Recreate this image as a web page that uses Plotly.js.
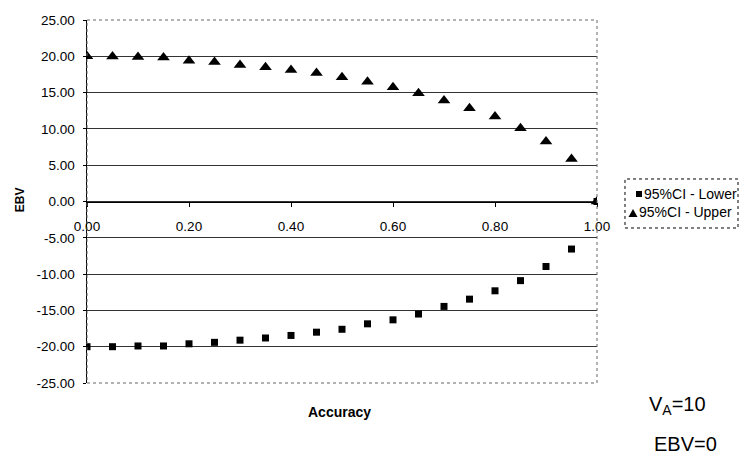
<!DOCTYPE html>
<html>
<head>
<meta charset="utf-8">
<script src="https://cdn.plot.ly/plotly-3.0.1.min.js"></script>
<style>html,body{margin:0;padding:0;background:#fff;}#chart{width:743px;height:457px;}</style>
</head>
<body>
<div id="chart"></div>
<script>
const accuracy = [0.00,0.05,0.10,0.15,0.20,0.25,0.30,0.35,0.40,0.45,0.50,0.55,0.60,0.65,0.70,0.75,0.80,0.85,0.90,0.95,1.00];
const lowerCI = [-20.0,-20.0,-19.9,-19.9,-19.6,-19.4,-19.1,-18.8,-18.45,-18.0,-17.6,-16.85,-16.3,-15.5,-14.45,-13.45,-12.3,-10.9,-8.95,-6.55,0.0];
const upperCI = [20.0,19.97,19.9,19.85,19.4,19.2,18.8,18.5,18.1,17.7,17.1,16.5,15.75,14.9,13.9,12.85,11.7,10.1,8.25,5.85,0.0];
const seriesNames = ['95%CI - Lower','95%CI - Upper'];
const yTicks = [-25,-20,-15,-10,-5,0,5,10,15,20,25];
const xTicks = [0,0.2,0.4,0.6,0.8,1.0];

const font = 'Arial, "Liberation Sans", sans-serif';
const traces = [
  {x: accuracy, y: lowerCI, name: seriesNames[0], type: 'scatter', mode: 'markers',
   marker: {symbol: 'square', size: 7, color: '#000'}},
  {x: accuracy, y: upperCI, name: seriesNames[1], type: 'scatter', mode: 'markers',
   marker: {symbol: 'triangle-up', size: 11, color: '#000'}}
];
const layout = {
  width: 743, height: 457,
  margin: {l: 87, r: 146, t: 20, b: 74, pad: 0, autoexpand: false},
  paper_bgcolor: '#fff', plot_bgcolor: '#fff',
  font: {family: font, size: 13, color: '#000'},
  showlegend: false,
  xaxis: {range: [0, 1], tickvals: xTicks, ticktext: xTicks.map(v => v.toFixed(2)),
          anchor: 'free', position: 0.5, showline: true, linecolor: '#000', linewidth: 1,
          ticks: 'outside', ticklen: 4, tickcolor: '#000', showgrid: false, zeroline: false,
          ticklabelstandoff: 8,
          tickfont: {family: font, size: 13.5, color: '#000'}},
  yaxis: {range: [-25, 25], tickvals: yTicks, ticktext: yTicks.map(v => v.toFixed(2)),
          showline: true, linecolor: '#000', linewidth: 1.5, ticks: 'outside', ticklen: 3, tickcolor: '#000',
          ticklabelstandoff: 5,
          showgrid: true, gridcolor: '#333', gridwidth: 1, zeroline: false,
          tickfont: {family: font, size: 13.5, color: '#000'}},
  shapes: [
    {type: 'rect', xref: 'paper', yref: 'paper', x0: 0, x1: 1, y0: 0, y1: 1,
     line: {color: '#666', width: 1, dash: 'dot'}},
    // legend box
    {type: 'rect', xref: 'paper', yref: 'paper', x0: 1.0549, x1: 1.2765, y0: 0.427, y1: 0.562,
     line: {color: '#000', width: 1, dash: 'dot'}, fillcolor: '#fff'},
    // legend symbols
    {type: 'rect', xref: 'paper', yref: 'paper', x0: 1.0765, x1: 1.0882, y0: 0.5124, y1: 0.5289,
     line: {width: 0}, fillcolor: '#000'},
    {type: 'path', xref: 'paper', yref: 'paper', path: 'M 1.0618 0.4573 L 1.0794 0.4573 L 1.0706 0.4793 Z',
     line: {width: 0}, fillcolor: '#000'}
  ],
  annotations: [
    {text: seriesNames[0], xref: 'paper', yref: 'paper', x: 1.0882, y: 0.5207, showarrow: false,
     xanchor: 'left', yanchor: 'middle', font: {family: font, size: 14, color: '#000'}},
    {text: seriesNames[1], xref: 'paper', yref: 'paper', x: 1.0784, y: 0.471, showarrow: false,
     xanchor: 'left', yanchor: 'middle', font: {family: font, size: 14, color: '#000'}},
    {text: '<b>EBV</b>', xref: 'paper', yref: 'paper', x: -0.131, y: 0.504, showarrow: false, textangle: -90,
     xanchor: 'center', yanchor: 'middle', font: {family: font, size: 12, color: '#000'}},
    {text: '<b>Accuracy</b>', xref: 'paper', yref: 'paper', x: 0.496, y: -0.080, showarrow: false,
     xanchor: 'center', yanchor: 'middle', font: {family: font, size: 14, color: '#000'}},
    {text: 'V<sub>A</sub>=10', xref: 'paper', yref: 'paper', x: 1.158, y: -0.061, showarrow: false,
     xanchor: 'center', yanchor: 'middle', font: {family: font, size: 20, color: '#000'}},
    {text: 'EBV=0', xref: 'paper', yref: 'paper', x: 1.1735, y: -0.168, showarrow: false,
     xanchor: 'center', yanchor: 'middle', font: {family: font, size: 20, color: '#000'}}
  ]
};
Plotly.newPlot('chart', traces, layout, {staticPlot: true, displayModeBar: false});
</script>
</body>
</html>
